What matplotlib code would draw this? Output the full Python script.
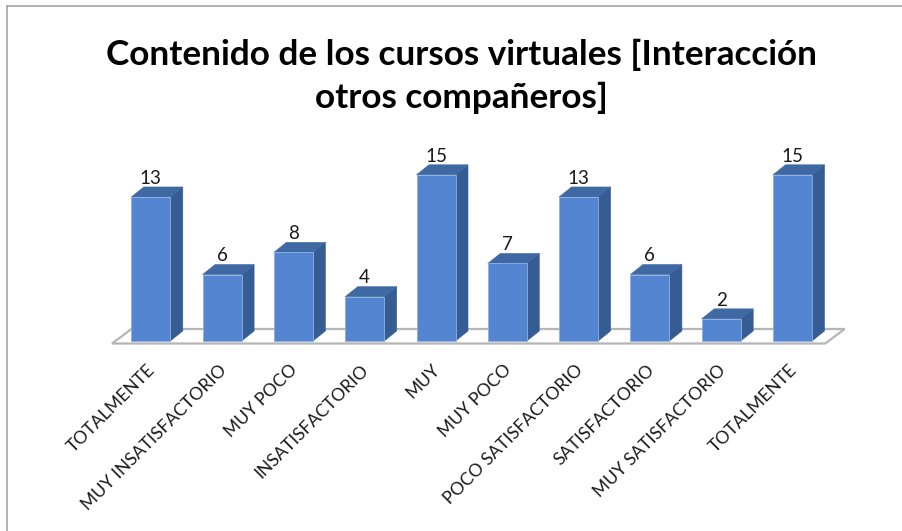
import matplotlib
matplotlib.use("Agg")
import matplotlib.pyplot as plt
from matplotlib.patches import Polygon
from matplotlib.lines import Line2D
from matplotlib.transforms import ScaledTranslation

categories = ["TOTALMENTE", "MUY INSATISFACTORIO", "MUY POCO", "INSATISFACTORIO", "MUY",
              "MUY POCO", "POCO SATISFACTORIO", "SATISFACTORIO", "MUY SATISFACTORIO", "TOTALMENTE"]
values = [13, 6, 8, 4, 15, 7, 13, 6, 2, 15]
title = "Contenido de los cursos virtuales [Interacción\notros compañeros]"

W, H = 902, 531
plt.rcParams['font.family'] = ['Lato', 'DejaVu Sans']
fig = plt.figure(figsize=(W / 100, H / 100), dpi=100)

# frame of the pasted chart
fig.add_artist(Line2D([7.5 / W, 7.5 / W], [0, 1 - 5.5 / H], color="#a6a6a6", lw=1.2))
fig.add_artist(Line2D([7.5 / W, 1], [1 - 5.5 / H, 1 - 5.5 / H], color="#a6a6a6", lw=1.2))

# axes in pixels: one category = 71.3 px, one unit = 11.08 px, baseline at y=341
left, right, top, bottom = 100, 860, 140, 352
ax = fig.add_axes([left / W, 1 - bottom / H, (right - left) / W, (bottom - top) / H])
ax.set_xlim((left - 150.8) / 71.3, (right - 150.8) / 71.3)
ax.set_ylim((341 - bottom) / 11.08, (341 - top) / 11.08)
for s in ax.spines.values():
    s.set_visible(False)
ax.patch.set_visible(False)

width = 39 / 71.3
dx = 12.5 / 71.3
dy = 10 / 11.08

# floor
fl = -2.5 / 11.08
fx0 = -38.8 / 71.3
fx1 = 9 + 32.7 / 71.3
floor = Polygon([(fx0, fl), (fx1, fl), (fx1 + 19.5 / 71.3, fl + 14.5 / 11.08), (fx0 + 19.5 / 71.3, fl + 14.5 / 11.08)],
                closed=True, facecolor="white", edgecolor="#b5b5b5", lw=1.6, zorder=1)
ax.add_patch(floor)

xs = list(range(len(values)))
for x, v in zip(xs, values):
    r = x + width / 2
    l = x - width / 2
    ax.add_patch(Polygon([(r, 0), (r + dx, dy), (r + dx, v + dy), (r, v)], facecolor="#355d94", edgecolor="#355d94", lw=0.4, zorder=2))
    ax.add_patch(Polygon([(l, v), (r, v), (r + dx, v + dy), (l + dx, v + dy)], facecolor="#3e69a3", edgecolor="#3e69a3", lw=0.4, zorder=2))
ax.bar(xs, values, width=width, color="#5485d1", edgecolor="#8fb0e2", linewidth=0.6, zorder=3)

for x, v in zip(xs, values):
    ax.text(x, v + dy + 0.02, str(v), ha="center", va="bottom", fontsize=13.5, color="#1a1a1a", zorder=4)

ax.set_yticks([])
ax.set_xticks(xs)
ax.set_xticklabels(categories, rotation=45, ha="right", rotation_mode="anchor", fontsize=12.6, color="#1a1a1a")
ax.tick_params(axis="x", length=0, pad=7)
shift = ScaledTranslation(-4 / 100, 0, fig.dpi_scale_trans)
for lab in ax.get_xticklabels():
    lab.set_transform(lab.get_transform() + shift)

fig.text(461 / W, 1 - 76 / H, title, ha="center", va="center", fontsize=25.3, fontweight="bold", color="black", linespacing=1.4)

fig.savefig("out.png", dpi=100)
